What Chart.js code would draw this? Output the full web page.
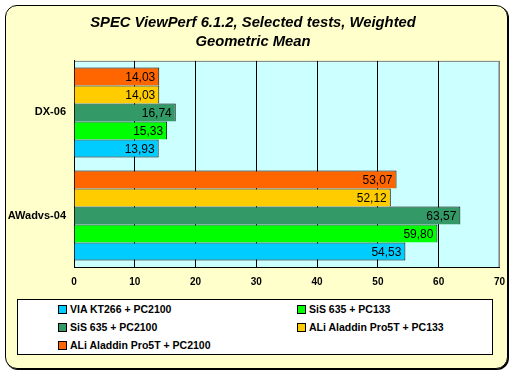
<!DOCTYPE html>
<html lang="en">
<head>
    <meta charset="UTF-8">
    <title>SPEC ViewPerf 6.1.2</title>
    <script src="https://cdn.jsdelivr.net/npm/chart.js"></script>
    <style>
        body { margin: 0; background: #fff; font-family: Arial, 'Liberation Sans', sans-serif; }
        #wrap { position: relative; width: 514px; height: 375px; }
        #frame {
            position: absolute; left: 5px; top: 5px; width: 501px; height: 362px;
            border: 1px solid #000; border-radius: 12px; background: #FFFFCC;
            box-shadow: 1px 1px 0 #000;
        }
        #chart { position: absolute; left: 0; top: 0; }
        #legend {
            position: absolute; left: 17px; top: 299px; width: 474px; height: 54px;
            border: 1px solid #000; background: #fff;
        }
        .item {
            position: absolute; height: 18px; line-height: 18px;
            font-size: 10.5px; font-weight: bold; color: #000; white-space: nowrap;
        }
        .item span {
            display: inline-block; width: 7px; height: 7px; border: 1px solid #000;
            margin-right: 3px; vertical-align: -1px;
        }
    </style>
</head>
<body>
<div id="wrap">
    <div id="frame"></div>
    <canvas id="chart" width="514" height="375"></canvas>
    <div id="legend"></div>
</div>
<script>
    // 데이터
    const categories = ['DX-06', 'AWadvs-04'];
    const seriesNames = [
        'VIA KT266 + PC2100',
        'SiS 635 + PC133',
        'SiS 635 + PC2100',
        'ALi Aladdin Pro5T + PC133',
        'ALi Aladdin Pro5T + PC2100'
    ];
    const viaKt266Pc2100 = [13.93, 54.53];
    const sis635Pc133 = [15.33, 59.80];
    const sis635Pc2100 = [16.74, 63.57];
    const aliPc133 = [14.03, 52.12];
    const aliPc2100 = [14.03, 53.07];
    const seriesValues = [viaKt266Pc2100, sis635Pc133, sis635Pc2100, aliPc133, aliPc2100];
    const seriesColors = ['#00CCFF', '#00FF00', '#339966', '#FFCC00', '#FF6600'];
    const xTickValues = [0, 10, 20, 30, 40, 50, 60, 70];

    const font = "Arial, 'Liberation Sans', sans-serif";

    // Excel 순서: 첫 시리즈가 맨 아래 -> 역순으로 데이터셋 구성
    const datasets = seriesNames.map((name, i) => ({
        label: name,
        data: seriesValues[i],
        backgroundColor: seriesColors[i],
        borderColor: '#000',
        borderWidth: { top: 1, right: 1, bottom: i === 0 ? 1 : 0, left: 0 },
        borderSkipped: false,
        barPercentage: 1,
        categoryPercentage: 0.874
    })).reverse();

    // 플롯 영역 배경 + 회색 테두리
    const plotArea = {
        id: 'plotArea',
        beforeDraw(chart) {
            const { ctx, chartArea: a } = chart;
            ctx.save();
            ctx.fillStyle = '#CCFFFF';
            ctx.fillRect(a.left, a.top, a.right - a.left, a.bottom - a.top);
            ctx.strokeStyle = '#808080';
            ctx.lineWidth = 1;
            ctx.strokeRect(a.left + 0.5, a.top + 0.5, a.right - a.left - 1, a.bottom - a.top);
            ctx.restore();
        }
    };

    // 막대 끝 값 라벨
    const valueLabels = {
        id: 'valueLabels',
        afterDatasetsDraw(chart) {
            const ctx = chart.ctx;
            ctx.save();
            ctx.font = '12px ' + font;
            ctx.fillStyle = '#000';
            ctx.textAlign = 'right';
            ctx.textBaseline = 'middle';
            chart.data.datasets.forEach((ds, di) => {
                chart.getDatasetMeta(di).data.forEach((bar, i) => {
                    const txt = ds.data[i].toFixed(2).replace('.', ',');
                    ctx.fillText(txt, bar.x - 4, bar.y + 1);
                });
            });
            ctx.restore();
        }
    };

    new Chart(document.getElementById('chart'), {
        type: 'bar',
        data: { labels: categories, datasets: datasets },
        plugins: [plotArea, valueLabels],
        options: {
            indexAxis: 'y',
            responsive: false,
            animation: false,
            layout: { padding: { left: 6, right: 14, top: 0, bottom: 0 } },
            plugins: {
                legend: { display: false },
                tooltip: { enabled: false },
                title: {
                    display: true,
                    text: ['SPEC ViewPerf 6.1.2, Selected tests, Weighted', 'Geometric Mean'],
                    color: '#000',
                    font: { family: font, size: 14.8, weight: 'bold', style: 'italic', lineHeight: 1.28 },
                    padding: { top: 13.5, bottom: 9.5 }
                }
            },
            scales: {
                x: {
                    min: 0,
                    max: 70,
                    afterBuildTicks(scale) {
                        scale.ticks = xTickValues.map(v => ({ value: v }));
                    },
                    afterFit(scale) { scale.height = 108; },
                    grid: {
                        color: ctx => (ctx.tick && ctx.tick.value === 70) ? '#808080' : '#000',
                        drawTicks: false
                    },
                    border: { color: '#000' },
                    ticks: {
                        color: '#000',
                        padding: 9,
                        font: { family: font, size: 10, weight: 'bold' }
                    }
                },
                y: {
                    afterFit(scale) { scale.width = 68; },
                    grid: { display: false, drawTicks: false },
                    border: { color: '#000' },
                    ticks: {
                        color: '#000',
                        padding: 8,
                        font: { family: font, size: 11, weight: 'bold' }
                    }
                }
            }
        }
    });

    // 범례 (2열)
    const legend = document.getElementById('legend');
    seriesNames.forEach((name, i) => {
        const el = document.createElement('div');
        el.className = 'item';
        el.style.left = (i % 2 === 0 ? 40 : 279) + 'px';
        el.style.top = (Math.floor(i / 2) * 18) + 'px';
        el.innerHTML = '<span style="background:' + seriesColors[i] + '"></span>' + name;
        legend.appendChild(el);
    });
</script>
</body>
</html>
